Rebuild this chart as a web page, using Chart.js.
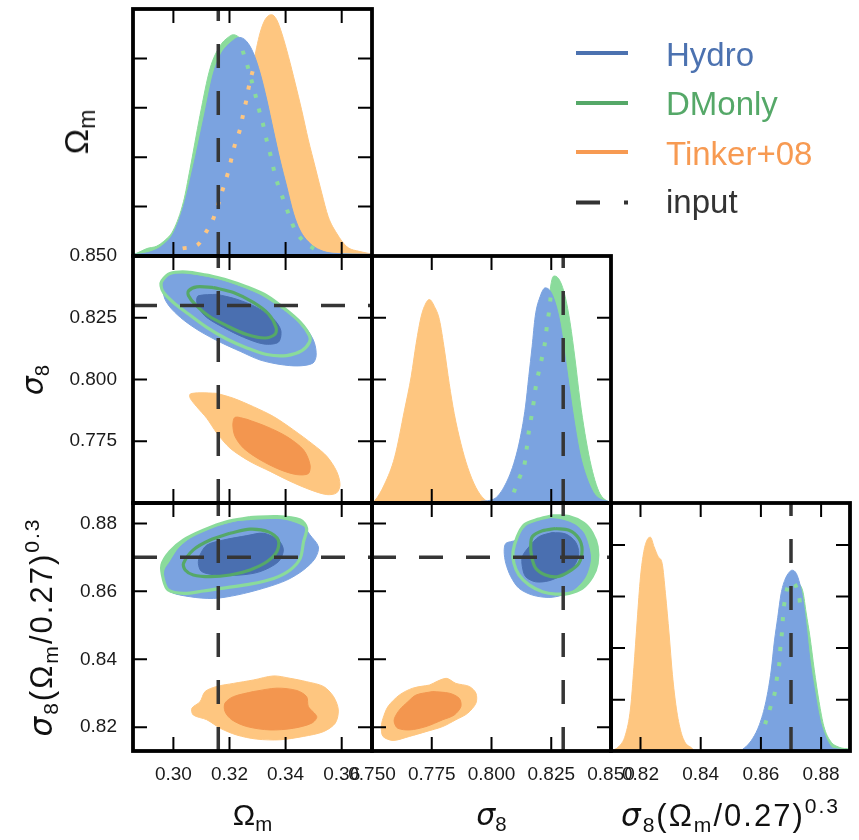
<!DOCTYPE html>
<html>
<head>
<meta charset="utf-8">
<script src="https://cdn.jsdelivr.net/npm/chart.js@4.4.1/dist/chart.umd.min.js"></script>
<style>
html, body { margin: 0; padding: 0; background: #fff; }
#wrap { position: relative; width: 859px; height: 840px; overflow: hidden; }
#wrap canvas { position: absolute; left: 0; top: 0; }
.lab { position: absolute; font-family: 'Liberation Sans', Arial, sans-serif; font-size: 30px; line-height: 30px; white-space: nowrap; color: #111; }
.lab i { font-family: 'DejaVu Sans'; font-style: italic; }
.lab sub { font-size: 0.68em; vertical-align: -0.3em; line-height: 0; }
.lab sup { font-size: 0.68em; vertical-align: 0.6em; line-height: 0; }
.lab.long { font-size: 31px; letter-spacing: 2px; }
.lab.big { font-size: 34px; }
.bot { top: 800px; transform: translateX(-50%); }
.rot { transform: translate(-50%, -50%) rotate(-90deg); }
.leg { position: absolute; left: 666px; font-family: 'Liberation Sans', Arial, sans-serif; font-size: 33px; line-height: 33px; white-space: nowrap; }
.sw { position: absolute; left: 576px; width: 52px; height: 4px; }
</style>
</head>
<body>
<div id="wrap">
  <canvas id="p00" width="859" height="840"></canvas>
  <canvas id="p10" width="859" height="840"></canvas>
  <canvas id="p11" width="859" height="840"></canvas>
  <canvas id="p20" width="859" height="840"></canvas>
  <canvas id="p21" width="859" height="840"></canvas>
  <canvas id="p22" width="859" height="840"></canvas>

  <div class="lab bot" style="left:252.5px">Ω<sub>m</sub></div>
  <div class="lab bot" style="left:491.5px"><i>σ</i><sub>8</sub></div>
  <div class="lab bot long" style="left:730.5px"><i>σ</i><sub>8</sub>(Ω<sub>m</sub>/0.27)<sup>0.3</sup></div>
  <div class="lab rot big" style="left:76px;top:132px">Ω<sub>m</sub></div>
  <div class="lab rot" style="left:33px;top:380px"><i>σ</i><sub>8</sub></div>
  <div class="lab rot long" style="left:41px;top:627px"><i>σ</i><sub>8</sub>(Ω<sub>m</sub>/0.27)<sup>0.3</sup></div>

  <div class="sw" style="top:51px;background:#4C72B0"></div>
  <div class="leg" style="top:38px;color:#4C72B0">Hydro</div>
  <div class="sw" style="top:101px;background:#55A868"></div>
  <div class="leg" style="top:87px;color:#55A868">DMonly</div>
  <div class="sw" style="top:150px;background:#F79A52"></div>
  <div class="leg" style="top:137px;color:#F79A52">Tinker+08</div>
  <svg style="position:absolute;left:576px;top:200px" width="52" height="5"><line x1="0" y1="2.5" x2="52" y2="2.5" stroke="#333" stroke-width="4" stroke-dasharray="24 24"/></svg>
  <div class="leg" style="top:185px;color:#333">input</div>
</div>

<script>
// axis limits
const omRange = [0.2856, 0.3708];
const s8Range = [0.75, 0.85];
const S8xRange = [0.8102, 0.8896];
const S8yRange = [0.813, 0.886];
const pdfRange = [0, 1];

// input cosmology
const omInput = 0.316;
const s8Input = 0.83;
const S8Input = 0.87;

// tick marks and labels
const omTicks = [0.30, 0.32, 0.34, 0.36];
const s8Ticks = [0.775, 0.800, 0.825];
const s8XLabels = [0.750, 0.775, 0.800, 0.825, 0.850];
const s8YLabels = [0.775, 0.800, 0.825, 0.850];
const S8Ticks = [0.82, 0.84, 0.86, 0.88];
const pdfTicksOm = [0.2, 0.4, 0.6, 0.8];
const pdfTicksS8 = [0.25, 0.5, 0.75];
const pdfTicksS8c = [0.207, 0.415, 0.623, 0.831];

// 1D posteriors, Omega_m
const omHydro = [[0.2856,0.007],[0.2881,0.008],[0.2941,0.027],[0.2964,0.045],[0.3000,0.092],[0.3036,0.200],[0.3071,0.362],[0.3107,0.551],[0.3143,0.741],[0.3172,0.822],[0.3202,0.862],[0.3235,0.885],[0.3261,0.869],[0.3285,0.822],[0.3309,0.741],[0.3333,0.632],[0.3356,0.511],[0.3380,0.389],[0.3404,0.281],[0.3428,0.173],[0.3451,0.105],[0.3487,0.051],[0.3523,0.024],[0.3570,0.011],[0.3708,0.007]];
const omDM = [[0.2856,0.007],[0.2869,0.011],[0.2905,0.030],[0.2941,0.040],[0.2964,0.058],[0.3000,0.105],[0.3036,0.220],[0.3059,0.350],[0.3095,0.570],[0.3131,0.760],[0.3166,0.850],[0.3195,0.885],[0.3214,0.896],[0.3240,0.880],[0.3270,0.840],[0.3295,0.780],[0.3320,0.685],[0.3345,0.560],[0.3370,0.430],[0.3395,0.312],[0.3420,0.195],[0.3445,0.113],[0.3480,0.055],[0.3520,0.022],[0.3570,0.009],[0.3708,0.006]];
const omTinker = [[0.2856,0.004],[0.3000,0.008],[0.3060,0.030],[0.3120,0.100],[0.3180,0.250],[0.3235,0.500],[0.3285,0.780],[0.3309,0.903],[0.3327,0.957],[0.3350,0.977],[0.3368,0.957],[0.3386,0.903],[0.3410,0.808],[0.3434,0.700],[0.3457,0.592],[0.3481,0.470],[0.3505,0.362],[0.3529,0.254],[0.3552,0.159],[0.3582,0.092],[0.3618,0.038],[0.3665,0.018],[0.3708,0.008]];
const omTinkerDots = [[0.3033,0.031],[0.3086,0.045],[0.3116,0.096],[0.3143,0.153],[0.3176,0.270],[0.3194,0.335],[0.3220,0.454],[0.3238,0.515],[0.3249,0.576],[0.3261,0.636],[0.3271,0.697],[0.3285,0.758]];
const omDMDots = [[0.3247,0.831],[0.3264,0.770],[0.3279,0.709],[0.3293,0.649],[0.3306,0.589],[0.3321,0.527],[0.3333,0.466],[0.3347,0.405],[0.3359,0.345],[0.3374,0.284],[0.3394,0.223],[0.3412,0.166],[0.3434,0.105],[0.3463,0.061],[0.3511,0.022]];

// 1D posteriors, sigma_8
const s8Hydro = [[0.7955,0.007],[0.8010,0.016],[0.8052,0.064],[0.8093,0.159],[0.8121,0.267],[0.8142,0.389],[0.8156,0.512],[0.8170,0.634],[0.8183,0.756],[0.8204,0.837],[0.8225,0.871],[0.8246,0.858],[0.8267,0.810],[0.8287,0.729],[0.8308,0.593],[0.8329,0.444],[0.8350,0.308],[0.8370,0.199],[0.8398,0.104],[0.8426,0.043],[0.8454,0.016],[0.8488,0.007]];
const s8DM = [[0.8038,0.009],[0.8107,0.077],[0.8163,0.267],[0.8204,0.512],[0.8232,0.756],[0.8253,0.905],[0.8264,0.919],[0.8287,0.898],[0.8308,0.837],[0.8329,0.729],[0.8350,0.579],[0.8370,0.417],[0.8391,0.281],[0.8412,0.172],[0.8433,0.091],[0.8454,0.037],[0.8482,0.009],[0.8500,0.005]];
const s8Tinker = [[0.7500,0.003],[0.7512,0.010],[0.7553,0.077],[0.7595,0.186],[0.7636,0.376],[0.7664,0.512],[0.7685,0.647],[0.7706,0.756],[0.7726,0.810],[0.7740,0.824],[0.7761,0.796],[0.7782,0.742],[0.7803,0.620],[0.7823,0.484],[0.7844,0.362],[0.7872,0.240],[0.7900,0.145],[0.7934,0.064],[0.7969,0.016],[0.7997,0.003],[0.8500,0.000]];
const s8DMDots = [[0.8093,0.043],[0.8117,0.102],[0.8139,0.161],[0.8148,0.227],[0.8156,0.288],[0.8167,0.349],[0.8177,0.412],[0.8186,0.475],[0.8199,0.536],[0.8213,0.597],[0.8225,0.658],[0.8232,0.719],[0.8242,0.783],[0.8249,0.851]];

// 1D posteriors, sigma_8 (Omega_m/0.27)^0.3
const S8Hydro = [[0.8540,0.008],[0.8551,0.018],[0.8573,0.051],[0.8595,0.106],[0.8617,0.201],[0.8634,0.323],[0.8645,0.444],[0.8656,0.539],[0.8667,0.634],[0.8679,0.688],[0.8695,0.722],[0.8704,0.729],[0.8718,0.715],[0.8729,0.675],[0.8740,0.607],[0.8751,0.499],[0.8762,0.377],[0.8779,0.241],[0.8795,0.133],[0.8812,0.065],[0.8829,0.024],[0.8840,0.011],[0.8896,0.005]];
const S8DM = [[0.8550,0.005],[0.8562,0.015],[0.8595,0.080],[0.8628,0.250],[0.8662,0.550],[0.8690,0.680],[0.8710,0.705],[0.8724,0.680],[0.8740,0.640],[0.8750,0.560],[0.8763,0.460],[0.8777,0.330],[0.8793,0.200],[0.8809,0.100],[0.8831,0.040],[0.8860,0.015],[0.8896,0.008]];
const S8Tinker = [[0.8102,0.000],[0.8128,0.018],[0.8150,0.065],[0.8167,0.173],[0.8178,0.336],[0.8189,0.526],[0.8200,0.702],[0.8211,0.804],[0.8222,0.851],[0.8233,0.862],[0.8245,0.824],[0.8259,0.783],[0.8272,0.756],[0.8283,0.634],[0.8295,0.472],[0.8306,0.309],[0.8319,0.173],[0.8334,0.079],[0.8350,0.031],[0.8367,0.015],[0.8380,0.000]];
const S8DMDots = [[0.8614,0.108],[0.8632,0.178],[0.8647,0.241],[0.8654,0.302],[0.8662,0.363],[0.8665,0.424],[0.8671,0.492],[0.8674,0.553],[0.8680,0.610],[0.8691,0.668],[0.8705,0.680],[0.8726,0.627],[0.8732,0.580]];

// 2D contours: Omega_m vs sigma_8
const hydroOuterA = [[0.3095,0.8419],[0.3167,0.8402],[0.3238,0.8375],[0.3309,0.8341],[0.3369,0.8298],[0.3428,0.8251],[0.3475,0.8204],[0.3502,0.8151],[0.3509,0.8097],[0.3497,0.8066],[0.3446,0.8055],[0.3380,0.8061],[0.3309,0.8079],[0.3238,0.8114],[0.3167,0.8151],[0.3095,0.8195],[0.3036,0.8241],[0.2994,0.8285],[0.2970,0.8325],[0.2962,0.8372],[0.2970,0.8419],[0.3024,0.8429]];
const hydroInnerA = [[0.3155,0.8345],[0.3226,0.8325],[0.3297,0.8292],[0.3357,0.8245],[0.3383,0.8198],[0.3374,0.8151],[0.3321,0.8144],[0.3250,0.8171],[0.3178,0.8211],[0.3119,0.8251],[0.3089,0.8292],[0.3083,0.8321],[0.3089,0.8339]];
const dmOuterA = [[0.3119,0.8423],[0.3190,0.8403],[0.3262,0.8375],[0.3333,0.8339],[0.3398,0.8285],[0.3452,0.8231],[0.3485,0.8178],[0.3485,0.8151],[0.3458,0.8117],[0.3404,0.8097],[0.3333,0.8101],[0.3262,0.8128],[0.3190,0.8164],[0.3119,0.8211],[0.3054,0.8265],[0.3000,0.8312],[0.2965,0.8352],[0.2956,0.8379],[0.2959,0.8399],[0.2988,0.8429],[0.3048,0.8435]];
const dmInnerA = [[0.3143,0.8372],[0.3214,0.8352],[0.3285,0.8312],[0.3339,0.8265],[0.3366,0.8211],[0.3363,0.8184],[0.3327,0.8168],[0.3262,0.8182],[0.3190,0.8218],[0.3125,0.8258],[0.3077,0.8305],[0.3054,0.8339],[0.3054,0.8359],[0.3083,0.8375]];
const tinkerOuterA = [[0.3155,0.7944],[0.3214,0.7924],[0.3285,0.7890],[0.3357,0.7850],[0.3428,0.7796],[0.3499,0.7736],[0.3547,0.7689],[0.3582,0.7628],[0.3594,0.7574],[0.3582,0.7541],[0.3547,0.7534],[0.3487,0.7554],[0.3416,0.7588],[0.3345,0.7628],[0.3273,0.7668],[0.3202,0.7722],[0.3155,0.7783],[0.3119,0.7843],[0.3083,0.7890],[0.3060,0.7924],[0.3060,0.7941],[0.3095,0.7946]];
const tinkerInnerA = [[0.3262,0.7839],[0.3333,0.7809],[0.3404,0.7769],[0.3464,0.7715],[0.3487,0.7655],[0.3481,0.7619],[0.3440,0.7615],[0.3380,0.7635],[0.3309,0.7675],[0.3250,0.7722],[0.3220,0.7769],[0.3212,0.7816],[0.3220,0.7847]];

// 2D contours: Omega_m vs S8
const hydroOuterB = [[0.3226,0.8805],[0.3309,0.8810],[0.3392,0.8810],[0.3464,0.8790],[0.3487,0.8766],[0.3517,0.8731],[0.3505,0.8697],[0.3464,0.8663],[0.3404,0.8633],[0.3321,0.8609],[0.3226,0.8589],[0.3143,0.8579],[0.3060,0.8584],[0.2988,0.8599],[0.2970,0.8628],[0.2970,0.8663],[0.2988,0.8687],[0.3024,0.8731],[0.3083,0.8766],[0.3155,0.8790]];
const hydroInnerB = [[0.3262,0.8764],[0.3321,0.8771],[0.3374,0.8751],[0.3392,0.8722],[0.3374,0.8687],[0.3309,0.8658],[0.3238,0.8648],[0.3155,0.8648],[0.3101,0.8658],[0.3089,0.8682],[0.3095,0.8707],[0.3119,0.8736],[0.3178,0.8751]];
const dmOuterB = [[0.3273,0.8817],[0.3369,0.8820],[0.3452,0.8810],[0.3475,0.8785],[0.3464,0.8746],[0.3452,0.8697],[0.3416,0.8663],[0.3357,0.8638],[0.3273,0.8621],[0.3190,0.8611],[0.3107,0.8601],[0.3036,0.8594],[0.2982,0.8604],[0.2965,0.8633],[0.2959,0.8677],[0.2988,0.8717],[0.3036,0.8751],[0.3107,0.8780],[0.3190,0.8805]];
const dmInnerB = [[0.3202,0.8771],[0.3273,0.8783],[0.3339,0.8775],[0.3374,0.8751],[0.3369,0.8717],[0.3333,0.8687],[0.3273,0.8663],[0.3202,0.8648],[0.3131,0.8643],[0.3071,0.8648],[0.3042,0.8663],[0.3036,0.8682],[0.3071,0.8722],[0.3131,0.8751]];
const tinkerOuterB = [[0.3214,0.8329],[0.3285,0.8339],[0.3357,0.8351],[0.3416,0.8344],[0.3475,0.8334],[0.3535,0.8320],[0.3571,0.8290],[0.3588,0.8251],[0.3577,0.8212],[0.3535,0.8187],[0.3464,0.8173],[0.3380,0.8163],[0.3297,0.8165],[0.3226,0.8177],[0.3167,0.8197],[0.3119,0.8222],[0.3071,0.8236],[0.3066,0.8256],[0.3095,0.8275],[0.3113,0.8305],[0.3155,0.8320]];
const tinkerInnerB = [[0.3285,0.8305],[0.3369,0.8315],[0.3440,0.8308],[0.3475,0.8290],[0.3481,0.8261],[0.3511,0.8231],[0.3493,0.8212],[0.3428,0.8197],[0.3345,0.8192],[0.3262,0.8202],[0.3208,0.8222],[0.3184,0.8246],[0.3184,0.8271],[0.3214,0.8290]];

// 2D contours: sigma_8 vs S8
const hydroOuterC = [[0.8240,0.8815],[0.8296,0.8810],[0.8351,0.8795],[0.8386,0.8771],[0.8407,0.8731],[0.8414,0.8692],[0.8393,0.8643],[0.8351,0.8609],[0.8296,0.8589],[0.8240,0.8582],[0.8171,0.8589],[0.8115,0.8609],[0.8081,0.8643],[0.8060,0.8682],[0.8053,0.8717],[0.8060,0.8741],[0.8101,0.8751],[0.8129,0.8780],[0.8171,0.8805]];
const hydroInnerC = [[0.8254,0.8773],[0.8310,0.8769],[0.8351,0.8746],[0.8365,0.8712],[0.8344,0.8673],[0.8296,0.8648],[0.8240,0.8631],[0.8185,0.8628],[0.8143,0.8643],[0.8129,0.8673],[0.8129,0.8702],[0.8157,0.8731],[0.8199,0.8761]];
const dmOuterC = [[0.8254,0.8822],[0.8324,0.8820],[0.8386,0.8800],[0.8421,0.8771],[0.8442,0.8731],[0.8442,0.8682],[0.8421,0.8643],[0.8379,0.8609],[0.8324,0.8594],[0.8268,0.8592],[0.8213,0.8599],[0.8157,0.8619],[0.8115,0.8648],[0.8094,0.8682],[0.8090,0.8717],[0.8108,0.8761],[0.8136,0.8795],[0.8185,0.8810]];
const dmInnerC = [[0.8268,0.8785],[0.8324,0.8780],[0.8365,0.8756],[0.8379,0.8722],[0.8365,0.8682],[0.8324,0.8658],[0.8275,0.8643],[0.8226,0.8648],[0.8185,0.8668],[0.8168,0.8702],[0.8164,0.8736],[0.8171,0.8761],[0.8213,0.8778]];
const tinkerOuterC = [[0.7740,0.8324],[0.7810,0.8344],[0.7851,0.8329],[0.7907,0.8320],[0.7935,0.8300],[0.7935,0.8271],[0.7900,0.8241],[0.7851,0.8222],[0.7796,0.8202],[0.7726,0.8187],[0.7657,0.8173],[0.7588,0.8161],[0.7546,0.8173],[0.7539,0.8202],[0.7546,0.8226],[0.7567,0.8261],[0.7615,0.8295],[0.7671,0.8315]];
const tinkerInnerC = [[0.7754,0.8305],[0.7824,0.8300],[0.7865,0.8285],[0.7872,0.8261],[0.7844,0.8236],[0.7796,0.8222],[0.7726,0.8202],[0.7657,0.8192],[0.7608,0.8197],[0.7594,0.8212],[0.7594,0.8226],[0.7615,0.8251],[0.7650,0.8275],[0.7685,0.8295]];

// ---- styling / layout ----
const C = {
  hydro: '#7BA3E0', hydroDark: '#4A6FB0',
  dm: '#8ADB9B', dmDark: '#55A868',
  tink: '#FEC680', tinkDark: '#F3964F',
  input: '#353535'
};
const X_EDGES = [133, 372, 611, 850];
const Y_EDGES = [9, 256, 503, 751];

const pts = a => a.map(([x, y]) => ({x, y}));
const closed = a => pts(a.concat([a[0]]));

function area(a, color) {
  return {data: closed(a), backgroundColor: color, borderColor: color, borderWidth: 1, fill: 'shape', tension: 0.3};
}
function ring(a, color) {
  return {data: closed(a), borderColor: color, borderWidth: 3.2, fill: false, tension: 0.3};
}
function pdf(a, color) {
  return {data: pts(a), backgroundColor: color, borderColor: color, borderWidth: 1, fill: 'origin', cubicInterpolationMode: 'monotone'};
}
function dots(a, color) {
  return {data: pts(a), borderColor: color, borderWidth: 4, borderDash: [4, 11], fill: false, cubicInterpolationMode: 'monotone'};
}
function vline(v, yr) {
  return {data: [{x: v, y: yr[0]}, {x: v, y: yr[1]}], borderColor: C.input, borderWidth: 3.5, borderDash: [24, 23], fill: false};
}
function hline(v, xr) {
  return {data: [{x: xr[0], y: v}, {x: xr[1], y: v}], borderColor: C.input, borderWidth: 3.5, borderDash: [24, 23], fill: false};
}

// inward ticks on all four sides plus the box
function frame(xTicks, yTicks) {
  return {
    id: 'frame',
    afterDraw(chart) {
      const {ctx, chartArea: a} = chart;
      const sx = chart.scales.x, sy = chart.scales.y;
      ctx.save();
      ctx.strokeStyle = '#000';
      ctx.lineWidth = 2;
      ctx.beginPath();
      xTicks.forEach(v => {
        const p = sx.getPixelForValue(v);
        ctx.moveTo(p, a.bottom); ctx.lineTo(p, a.bottom - 14);
        ctx.moveTo(p, a.top); ctx.lineTo(p, a.top + 14);
      });
      yTicks.forEach(v => {
        const p = sy.getPixelForValue(v);
        ctx.moveTo(a.left, p); ctx.lineTo(a.left + 14, p);
        ctx.moveTo(a.right, p); ctx.lineTo(a.right - 14, p);
      });
      ctx.stroke();
      ctx.lineWidth = 3.8;
      ctx.strokeRect(a.left, a.top, a.right - a.left, a.bottom - a.top);
      ctx.restore();
    }
  };
}

function axis(r, labels, dec, dir) {
  const show = !!labels;
  return {
    type: 'linear', min: r[0], max: r[1], display: show,
    grid: {display: false, drawTicks: false},
    border: {display: false},
    afterBuildTicks: s => { if (labels) s.ticks = labels.map(v => ({value: v})); },
    afterFit: s => {
      if (!show) return;
      if (dir === 'x') s.height = 840 - Y_EDGES[3];
      else s.width = X_EDGES[0];
    },
    ticks: {
      autoSkip: false, maxRotation: 0, minRotation: 0,
      padding: dir === 'x' ? 12 : 16,
      color: '#1a1a1a',
      font: {family: 'Liberation Sans', size: 19},
      callback: v => Number(v).toFixed(dec)
    }
  };
}

// layers listed bottom to top
function panel(id, col, row, xr, yr, xTicks, yTicks, layers, xLab, xDec, yLab, yDec) {
  const n = layers.length;
  new Chart(document.getElementById(id), {
    type: 'line',
    data: {datasets: layers.map((d, i) => Object.assign({pointRadius: 0, order: n - i}, d))},
    options: {
      responsive: false, animation: false, events: [],
      layout: {
        autoPadding: false,
        padding: {
          left: yLab ? 0 : X_EDGES[col],
          right: 859 - X_EDGES[col + 1],
          top: Y_EDGES[row],
          bottom: xLab ? 0 : 840 - Y_EDGES[row + 1]
        }
      },
      plugins: {legend: {display: false}, tooltip: {enabled: false}},
      scales: {x: axis(xr, xLab, xDec, 'x'), y: axis(yr, yLab, yDec, 'y')}
    },
    plugins: [frame(xTicks, yTicks)]
  });
}

// row 1: Omega_m marginal
panel('p00', 0, 0, omRange, pdfRange, omTicks, pdfTicksOm, [
  pdf(omTinker, C.tink), pdf(omDM, C.dm), pdf(omHydro, C.hydro),
  dots(omTinkerDots, C.tink), dots(omDMDots, C.dm),
  vline(omInput, pdfRange)
]);

// row 2: sigma_8 vs Omega_m
panel('p10', 0, 1, omRange, s8Range, omTicks, s8Ticks, [
  area(tinkerOuterA, C.tink), area(tinkerInnerA, C.tinkDark),
  area(dmOuterA, C.dm), area(hydroOuterA, C.hydro), area(hydroInnerA, C.hydroDark),
  ring(dmOuterA, C.dm), ring(dmInnerA, C.dmDark),
  vline(omInput, s8Range), hline(s8Input, omRange)
], null, 2, s8YLabels, 3);

// row 2: sigma_8 marginal
panel('p11', 1, 1, s8Range, pdfRange, s8Ticks, pdfTicksS8, [
  pdf(s8Tinker, C.tink), pdf(s8DM, C.dm), pdf(s8Hydro, C.hydro),
  dots(s8DMDots, C.dm),
  vline(s8Input, pdfRange)
]);

// row 3: S8 vs Omega_m
panel('p20', 0, 2, omRange, S8yRange, omTicks, S8Ticks, [
  area(tinkerOuterB, C.tink), area(tinkerInnerB, C.tinkDark),
  area(dmOuterB, C.dm), area(hydroOuterB, C.hydro), area(hydroInnerB, C.hydroDark),
  ring(dmOuterB, C.dm), ring(dmInnerB, C.dmDark),
  vline(omInput, S8yRange), hline(S8Input, omRange)
], omTicks, 2, S8Ticks, 2);

// row 3: S8 vs sigma_8
panel('p21', 1, 2, s8Range, S8yRange, s8Ticks, S8Ticks, [
  area(tinkerOuterC, C.tink), area(tinkerInnerC, C.tinkDark),
  area(dmOuterC, C.dm), area(hydroOuterC, C.hydro), area(hydroInnerC, C.hydroDark),
  ring(dmOuterC, C.dm), ring(dmInnerC, C.dmDark),
  vline(s8Input, S8yRange), hline(S8Input, s8Range)
], s8XLabels, 3, null, 2);

// row 3: S8 marginal
panel('p22', 2, 2, S8xRange, pdfRange, S8Ticks, pdfTicksS8c, [
  pdf(S8Tinker, C.tink), pdf(S8DM, C.dm), pdf(S8Hydro, C.hydro),
  dots(S8DMDots, C.dm),
  vline(S8Input, pdfRange)
], S8Ticks, 2, null, 2);
</script>
</body>
</html>
